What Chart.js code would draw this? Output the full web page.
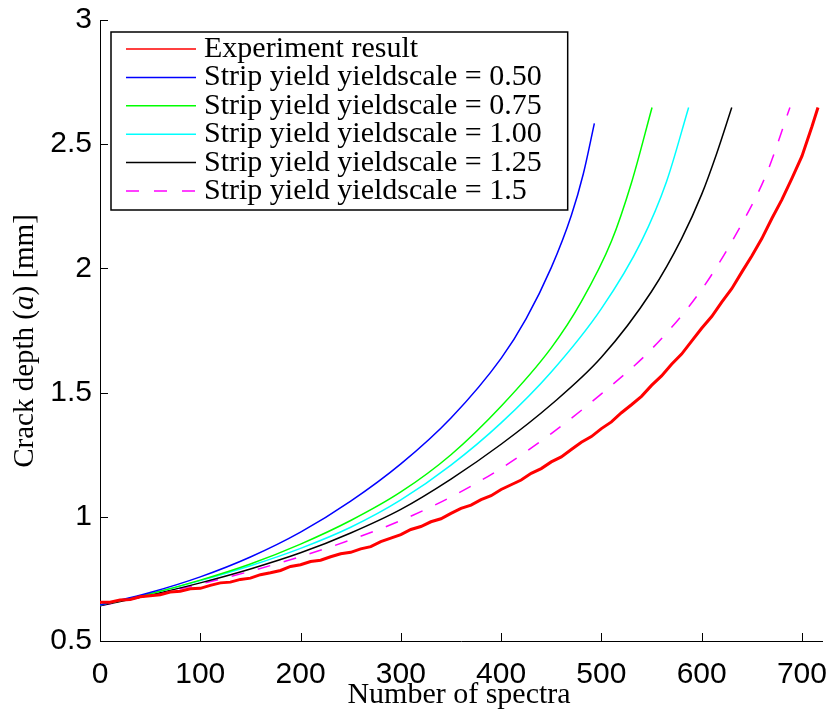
<!DOCTYPE html>
<html>
<head>
<meta charset="utf-8">
<title>Crack depth vs number of spectra</title>
<script src="https://cdn.jsdelivr.net/npm/chart.js@4.4.1/dist/chart.umd.min.js"></script>
<style>
  html, body { margin: 0; padding: 0; background: #fff; }
  #wrap { position: relative; width: 827px; height: 711px; }
</style>
</head>
<body>
<div id="wrap"><canvas id="crackChart"></canvas></div>
<script>
// axis ticks
const spectraTicks = [0, 100, 200, 300, 400, 500, 600, 700];
const depthTicks = [0.5, 1, 1.5, 2, 2.5, 3];

// measured crack depth, one sample every 10 spectra
const expN = [0, 10, 20, 30, 40, 50, 60, 70, 80, 90, 100, 110, 120, 130, 140, 150, 160, 170, 180, 190,
  200, 210, 220, 230, 240, 250, 260, 270, 280, 290, 300, 310, 320, 330, 340, 350, 360, 370, 380, 390,
  400, 410, 420, 430, 440, 450, 460, 470, 480, 490, 500, 510, 520, 530, 540, 550, 560, 570, 580, 590,
  600, 610, 620, 630, 640, 650, 660, 670, 680, 690, 700, 710, 716];
const expDepth = [0.656, 0.656, 0.665, 0.667, 0.678, 0.682, 0.686, 0.697, 0.700, 0.710, 0.712, 0.724, 0.734, 0.737, 0.748, 0.753, 0.767, 0.775, 0.784, 0.800,
  0.807, 0.820, 0.825, 0.839, 0.851, 0.857, 0.871, 0.880, 0.900, 0.914, 0.928, 0.949, 0.961, 0.980, 0.992, 1.014, 1.034, 1.047, 1.069, 1.085,
  1.110, 1.129, 1.148, 1.175, 1.194, 1.221, 1.241, 1.271, 1.300, 1.323, 1.355, 1.382, 1.419, 1.451, 1.485, 1.529, 1.567, 1.614, 1.655, 1.707,
  1.759, 1.806, 1.864, 1.918, 1.985, 2.050, 2.120, 2.201, 2.277, 2.362, 2.452, 2.571, 2.648];

// strip yield model predictions
const sy050N = [0, 50, 100, 150, 200, 250, 300, 350, 400, 425, 450, 470, 482, 493];
const sy050Depth = [0.645, 0.695, 0.758, 0.838, 0.938, 1.063, 1.213, 1.398, 1.638, 1.798, 2.003, 2.213, 2.381, 2.584];

const sy075N = [0, 50, 100, 150, 200, 250, 300, 350, 400, 450, 480, 510, 530, 550.5];
const sy075Depth = [0.645, 0.69, 0.745, 0.81, 0.89, 0.985, 1.10, 1.25, 1.445, 1.68, 1.866, 2.109, 2.345, 2.648];

const sy100N = [0, 50, 100, 150, 200, 250, 300, 350, 400, 450, 500, 540, 565, 587];
const sy100Depth = [0.645, 0.69, 0.743, 0.803, 0.873, 0.958, 1.068, 1.208, 1.378, 1.583, 1.838, 2.11, 2.35, 2.648];

const sy125N = [0, 50, 100, 150, 200, 250, 300, 350, 400, 450, 500, 550, 580, 600, 615, 630];
const sy125Depth = [0.642, 0.685, 0.734, 0.79, 0.855, 0.935, 1.03, 1.152, 1.292, 1.452, 1.642, 1.907, 2.12, 2.298, 2.463, 2.648];

const sy150N = [0, 50, 100, 150, 200, 250, 300, 350, 400, 450, 500, 550, 600, 640, 665, 688];
const sy150Depth = [0.642, 0.683, 0.729, 0.781, 0.84, 0.907, 0.985, 1.08, 1.195, 1.335, 1.495, 1.675, 1.915, 2.179, 2.384, 2.648];

const toPoints = (xs, ys) => xs.map((x, i) => ({ x: x, y: ys[i] }));

const SERIF = '"Liberation Serif", "Times New Roman", serif';
const SANS = '"Liberation Sans", Arial, sans-serif';

function curve(label, xs, ys, color, dash) {
  return {
    label: label,
    data: toPoints(xs, ys),
    borderColor: color,
    backgroundColor: color,
    borderWidth: 1.5,
    borderDash: dash || [],
    pointRadius: 0,
    cubicInterpolationMode: 'monotone',
    fill: false
  };
}

// ticks pointing into the plot, MATLAB style
const inwardTicks = {
  id: 'inwardTicks',
  afterDatasetsDraw(chart) {
    const { ctx, chartArea, scales } = chart;
    ctx.save();
    ctx.strokeStyle = '#000';
    ctx.lineWidth = 1;
    ctx.beginPath();
    scales.x.ticks.forEach(t => {
      const px = Math.round(scales.x.getPixelForValue(t.value)) + 0.5;
      ctx.moveTo(px, chartArea.bottom);
      ctx.lineTo(px, chartArea.bottom - 8);
    });
    scales.y.ticks.forEach(t => {
      const py = Math.round(scales.y.getPixelForValue(t.value)) + 0.5;
      ctx.moveTo(chartArea.left, py);
      ctx.lineTo(chartArea.left + 8, py);
    });
    ctx.stroke();
    ctx.restore();
  }
};

// axis titles (y title has an italic symbol)
const axisTitles = {
  id: 'axisTitles',
  afterDraw(chart) {
    const { ctx, chartArea } = chart;
    ctx.save();
    ctx.fillStyle = '#000';
    ctx.textBaseline = 'alphabetic';
    ctx.font = '30px ' + SERIF;
    ctx.textAlign = 'center';
    ctx.fillText('Number of spectra', (chartArea.left + chartArea.right) / 2 - 2, 703);

    const parts = [
      ['Crack depth (', '29px ' + SERIF],
      ['a', 'italic 29px ' + SERIF],
      [') [mm]', '29px ' + SERIF]
    ];
    let total = 0;
    parts.forEach(p => { ctx.font = p[1]; total += ctx.measureText(p[0]).width; });
    ctx.translate(33, 341);
    ctx.rotate(-Math.PI / 2);
    ctx.textAlign = 'left';
    let x = -total / 2;
    parts.forEach(p => {
      ctx.font = p[1];
      ctx.fillText(p[0], x, 0);
      x += ctx.measureText(p[0]).width;
    });
    ctx.restore();
  }
};

// boxed legend in the upper left of the plot
const boxLegend = {
  id: 'boxLegend',
  afterDraw(chart) {
    const { ctx, chartArea } = chart;
    const sets = chart.data.datasets;
    const left = chartArea.left + 11;
    const top = chartArea.top + 12;
    const rowH = 28.4;
    const lineX0 = left + 15, lineX1 = left + 85, textX = left + 93;
    ctx.save();
    ctx.font = '30px ' + SERIF;
    let maxW = 0;
    sets.forEach(ds => { maxW = Math.max(maxW, ctx.measureText(ds.label).width); });
    const w = textX - left + maxW + 26;
    const h = 17 + (sets.length - 1) * rowH + 19;
    ctx.fillStyle = '#fff';
    ctx.fillRect(left, top, w, h);
    ctx.strokeStyle = '#000';
    ctx.lineWidth = 1.5;
    ctx.strokeRect(left, top, w, h);
    sets.forEach((ds, i) => {
      const y = top + 17 + i * rowH;
      ctx.strokeStyle = ds.borderColor;
      ctx.lineWidth = 1.5;
      ctx.setLineDash(ds.borderDash && ds.borderDash.length ? [13, 15] : []);
      ctx.beginPath();
      ctx.moveTo(lineX0, y);
      ctx.lineTo(lineX1, y);
      ctx.stroke();
      ctx.setLineDash([]);
      ctx.fillStyle = '#000';
      ctx.textAlign = 'left';
      ctx.textBaseline = 'alphabetic';
      ctx.fillText(ds.label, textX, y + 8);
    });
    ctx.restore();
  }
};

const experiment = {
  label: 'Experiment result',
  data: toPoints(expN, expDepth),
  borderColor: '#ff0000',
  backgroundColor: '#ff0000',
  borderWidth: 3,
  pointRadius: 0,
  tension: 0,
  fill: false
};

new Chart(document.getElementById('crackChart').getContext('2d'), {
  type: 'line',
  data: {
    datasets: [
      experiment,
      curve('Strip yield yieldscale = 0.50', sy050N, sy050Depth, '#0000ff'),
      curve('Strip yield yieldscale = 0.75', sy075N, sy075Depth, '#00ff00'),
      curve('Strip yield yieldscale = 1.00', sy100N, sy100Depth, '#00ffff'),
      curve('Strip yield yieldscale = 1.25', sy125N, sy125Depth, '#000000'),
      curve('Strip yield yieldscale = 1.5', sy150N, sy150Depth, '#ff00ff', [13, 14])
    ]
  },
  options: {
    responsive: true,
    maintainAspectRatio: false,
    animation: false,
    layout: { padding: { top: 20, right: 5, left: 0, bottom: 0 } },
    scales: {
      x: {
        type: 'linear',
        min: 0,
        max: 720,
        grid: { display: false, drawTicks: false },
        border: { display: true, color: '#000', width: 1 },
        ticks: {
          color: '#000',
          font: { family: SANS, size: 30 },
          padding: 16,
          maxRotation: 0,
          autoSkip: false,
          callback: v => String(v)
        },
        afterBuildTicks: axis => { axis.ticks = spectraTicks.map(v => ({ value: v })); },
        afterFit: scale => {
          scale.height = 70;
          scale.paddingLeft = 0;
          scale.paddingRight = 0;
        }
      },
      y: {
        type: 'linear',
        min: 0.5,
        max: 3,
        grid: { display: false, drawTicks: false },
        border: { display: true, color: '#000', width: 1 },
        ticks: {
          color: '#000',
          font: { family: SANS, size: 30 },
          padding: 8,
          autoSkip: false,
          callback: v => String(v)
        },
        afterBuildTicks: axis => { axis.ticks = depthTicks.map(v => ({ value: v })); },
        afterFit: scale => {
          scale.width = 100;
          scale.paddingTop = 0;
          scale.paddingBottom = 0;
        }
      }
    },
    plugins: {
      legend: { display: false },
      tooltip: { enabled: false }
    }
  },
  plugins: [inwardTicks, boxLegend, axisTitles]
});
</script>
</body>
</html>
